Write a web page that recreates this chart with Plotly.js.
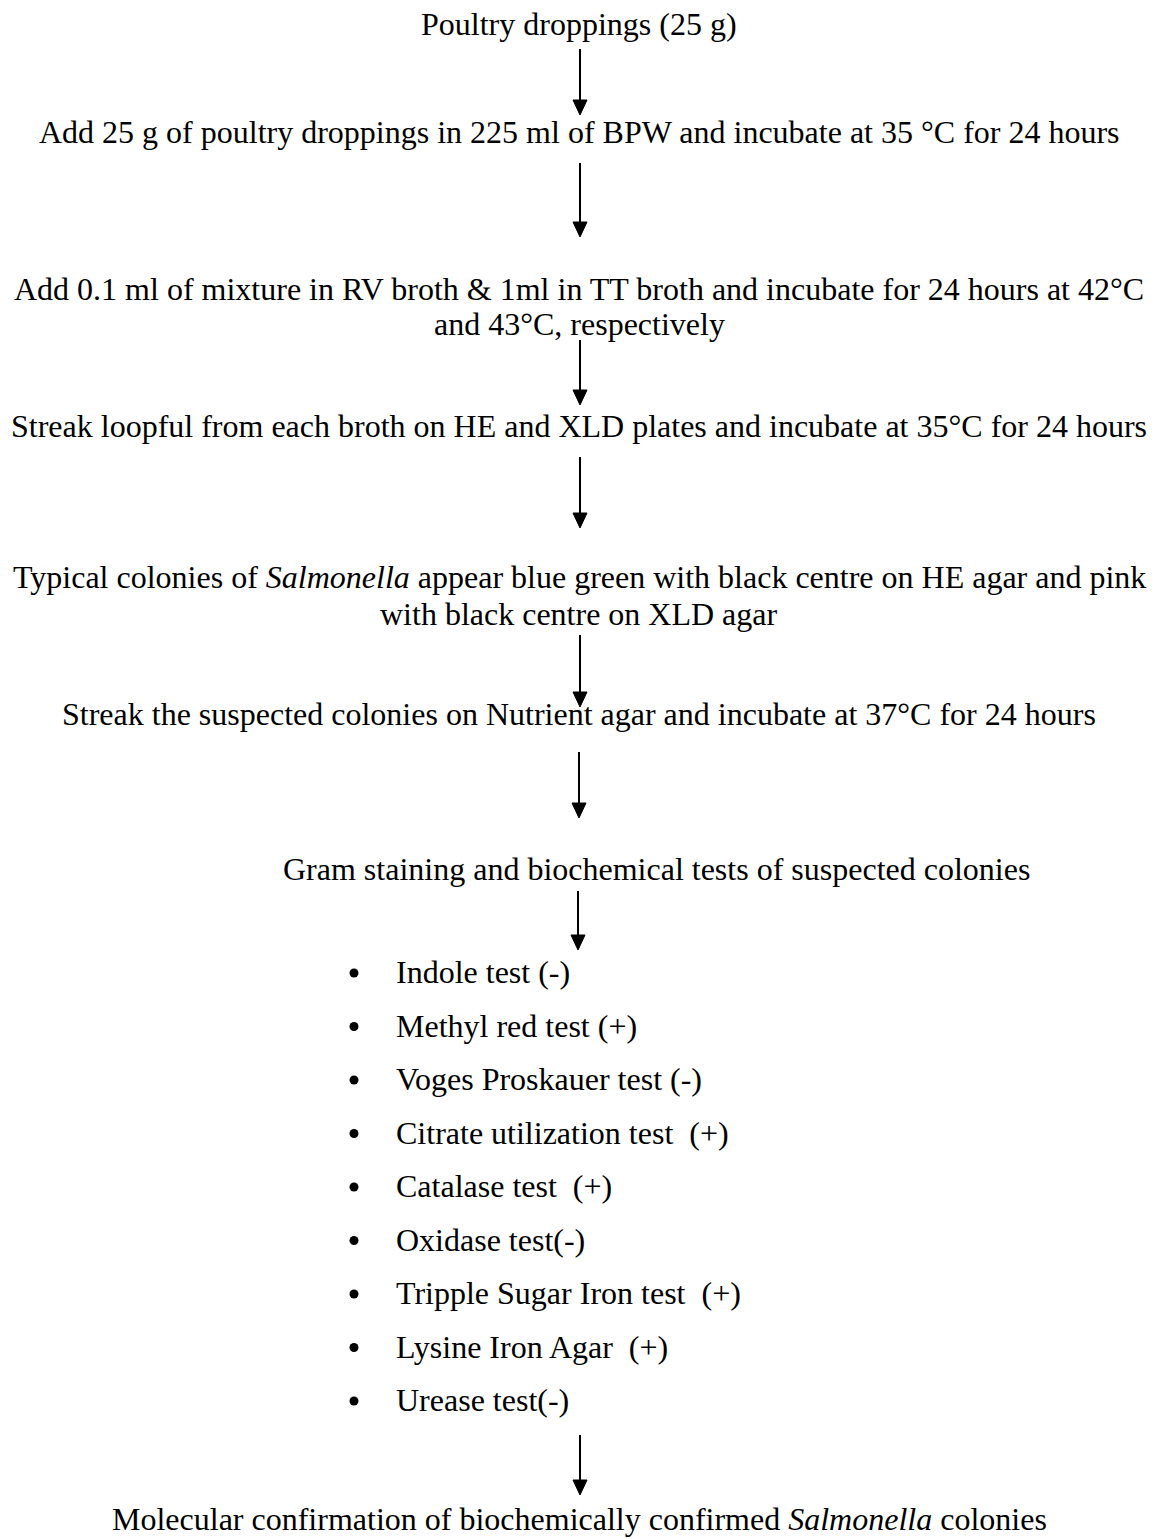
<!DOCTYPE html>
<html>
<head>
<meta charset="utf-8">
<script src="https://cdn.plot.ly/plotly-3.0.1.min.js"></script>
<style>html,body{margin:0;padding:0;background:#fff;}#chart{width:1158px;height:1539px;}</style>
</head>
<body>
<div id="chart"></div>
<script>
// ---- content ----
const steps = [
  "Poultry droppings (25 g)",
  "Add 25 g of poultry droppings in 225 ml of BPW and incubate at 35 °C for 24 hours",
  "Add 0.1 ml of mixture in RV broth &amp; 1ml in TT broth and incubate for 24 hours at 42°C<br>and 43°C, respectively",
  "Streak loopful from each broth on HE and XLD plates and incubate at 35°C for 24 hours",
  "Typical colonies of <i>Salmonella</i> appear blue green with black centre on HE agar and pink<br>with black centre on XLD agar",
  "Streak the suspected colonies on Nutrient agar and incubate at 37°C for 24 hours",
  "Gram staining and biochemical tests of suspected colonies",
  "Molecular confirmation of biochemically confirmed <i>Salmonella</i> colonies"
];
const tests = [
  "Indole test (-)",
  "Methyl red test (+)",
  "Voges Proskauer test (-)",
  "Citrate utilization test \u00a0(+)",
  "Catalase test \u00a0(+)",
  "Oxidase test(-)",
  "Tripple Sugar Iron test \u00a0(+)",
  "Lysine Iron Agar \u00a0(+)",
  "Urease test(-)"
];

// ---- layout (pixel positions on the page) ----
const W = 1158, H = 1539;
const FS = 32;
const FONT = {family: "'Liberation Serif', 'Times New Roman', Times, serif", size: FS, color: "#000"};
const stepX = [579, 579, 579, 579, 579, 579, 656, 579];
const stepBase = [[35], [143], [300, 335], [437], [588, 625], [725], [880], [1530]];
const arrowX = [580, 580, 580, 580, 580, 579, 578, 580];
const arrowTop = [49, 163, 340, 457, 635, 752, 891, 1435];
const arrowTip = [115, 237, 405, 528, 707, 818, 950, 1495];
const listBulletX = 354, listTextX = 395, listBase0 = 983, listStep = 53.5;
const BULLET_R = 4.5;
const baseOff = 0.338 * FS; // baseline below bbox middle

const annotations = [];
const shapes = [];
steps.forEach((s, i) => {
  s.split("<br>").forEach((line, j) => {
    annotations.push({
      x: stepX[i], y: stepBase[i][j] - baseOff, xref: "x", yref: "y",
      text: line, showarrow: false, xanchor: "center", yanchor: "middle",
      font: FONT, borderpad: 0
    });
  });
});
tests.forEach((t, k) => {
  const base = listBase0 + k * listStep;
  const cy = base - 10;
  shapes.push({type: "circle", xref: "x", yref: "y",
    x0: listBulletX - BULLET_R, x1: listBulletX + BULLET_R, y0: cy - BULLET_R, y1: cy + BULLET_R,
    fillcolor: "#000", line: {width: 0}});
  annotations.push({x: listTextX, y: base - baseOff, xref: "x", yref: "y", text: t, showarrow: false,
    xanchor: "left", yanchor: "middle", font: FONT, borderpad: 0});
});

const HEAD_H = 15, HEAD_W = 7;
arrowX.forEach((x, i) => {
  shapes.push({type: "line", xref: "x", yref: "y", x0: x, x1: x, y0: arrowTop[i], y1: arrowTip[i] - HEAD_H + 2,
    line: {color: "#000", width: 2}});
  shapes.push({type: "path", xref: "x", yref: "y",
    path: `M ${x - HEAD_W} ${arrowTip[i] - HEAD_H} L ${x + HEAD_W} ${arrowTip[i] - HEAD_H} L ${x} ${arrowTip[i]} Z`,
    fillcolor: "#000", line: {color: "#000", width: 1}});
});

const layout = {
  width: W, height: H,
  margin: {l: 0, r: 0, t: 0, b: 0, pad: 0},
  paper_bgcolor: "#fff", plot_bgcolor: "#fff",
  xaxis: {range: [0, W], visible: false, fixedrange: true},
  yaxis: {range: [H, 0], visible: false, fixedrange: true},
  showlegend: false,
  annotations: annotations,
  shapes: shapes
};
Plotly.newPlot("chart", [], layout, {staticPlot: true, displayModeBar: false});
</script>
</body>
</html>
